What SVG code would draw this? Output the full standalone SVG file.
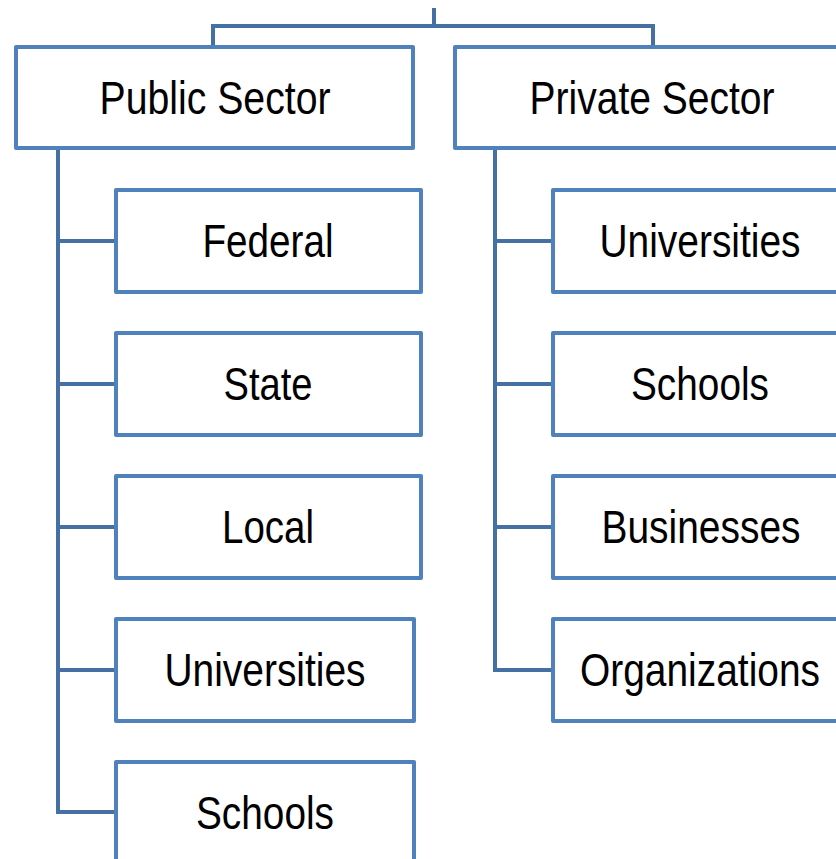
<svg xmlns="http://www.w3.org/2000/svg" width="836" height="859" viewBox="0 0 836 859">
<style>
.box{fill:#fff;stroke:#4F81BD;stroke-width:4;stroke-linejoin:round}
.con{fill:none;stroke:#4470A3;stroke-width:4;stroke-linejoin:miter}
.lbl{font-family:"Liberation Sans",Arial,sans-serif;font-size:46px;fill:#000;text-anchor:middle}
</style>
<rect width="836" height="859" fill="#fff"/>
<g id="connectors">
<path class="con" d="M434 8V26M213 47V26H653V47"/>
<path class="con" d="M58 148V812H116M58 241H116M58 384H116M58 527H116M58 670H116"/>
<path class="con" d="M495 148V670H553M495 241H553M495 384H553M495 527H553"/>
</g>
<g id="public"><rect class="box" x="16" y="47" width="397" height="101"/><text class="lbl" x="215" y="114" textLength="231" lengthAdjust="spacingAndGlyphs">Public Sector</text></g>
<g id="private"><rect class="box" x="455" y="47" width="400" height="101"/><text class="lbl" x="652" y="114" textLength="245" lengthAdjust="spacingAndGlyphs">Private Sector</text></g>
<g id="federal"><rect class="box" x="116" y="190" width="305" height="102"/><text class="lbl" x="268" y="257" textLength="131" lengthAdjust="spacingAndGlyphs">Federal</text></g>
<g id="state"><rect class="box" x="116" y="333" width="305" height="102"/><text class="lbl" x="268" y="400" textLength="89" lengthAdjust="spacingAndGlyphs">State</text></g>
<g id="local"><rect class="box" x="116" y="476" width="305" height="102"/><text class="lbl" x="268" y="543" textLength="92" lengthAdjust="spacingAndGlyphs">Local</text></g>
<g id="pub-universities"><rect class="box" x="116" y="619" width="298" height="102"/><text class="lbl" x="265" y="686" textLength="201" lengthAdjust="spacingAndGlyphs">Universities</text></g>
<g id="pub-schools"><rect class="box" x="116" y="762" width="298" height="120"/><text class="lbl" x="265" y="829" textLength="138" lengthAdjust="spacingAndGlyphs">Schools</text></g>
<g id="priv-universities"><rect class="box" x="553" y="190" width="300" height="102"/><text class="lbl" x="700" y="257" textLength="201" lengthAdjust="spacingAndGlyphs">Universities</text></g>
<g id="priv-schools"><rect class="box" x="553" y="333" width="300" height="102"/><text class="lbl" x="700" y="400" textLength="138" lengthAdjust="spacingAndGlyphs">Schools</text></g>
<g id="businesses"><rect class="box" x="553" y="476" width="300" height="102"/><text class="lbl" x="701" y="543" textLength="199" lengthAdjust="spacingAndGlyphs">Businesses</text></g>
<g id="organizations"><rect class="box" x="553" y="619" width="300" height="102"/><text class="lbl" x="700" y="686" textLength="240" lengthAdjust="spacingAndGlyphs">Organizations</text></g>
</svg>
